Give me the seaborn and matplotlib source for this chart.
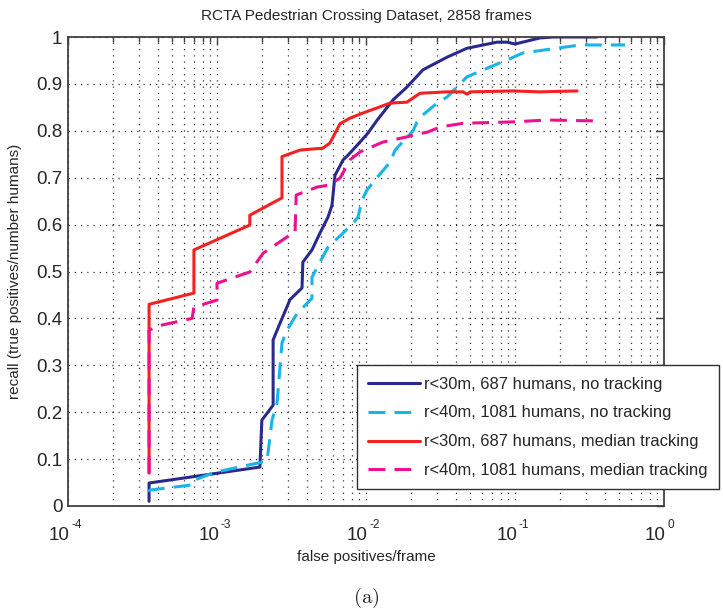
import numpy as np
import pandas as pd
import matplotlib
matplotlib.use("Agg")
import matplotlib.pyplot as plt
import seaborn as sns
from matplotlib.ticker import LogLocator, NullFormatter, FixedLocator

# ---------------- data ----------------
title = "RCTA Pedestrian Crossing Dataset, 2858 frames"
xlabel = "false positives/frame"
ylabel = "recall (true positives/number humans)"
caption = "(a)"

series_labels = [
    "r<30m, 687 humans, no tracking",
    "r<40m, 1081 humans, no tracking",
    "r<30m, 687 humans, median tracking",
    "r<40m, 1081 humans, median tracking",
]

navy_fp = [3.5e-4, 3.5e-4, 1.94e-3, 2.0e-3, 2.38e-3, 2.38e-3, 2.65e-3, 3.09e-3, 3.72e-3, 3.77e-3,
           4.34e-3, 4.91e-3, 5.56e-3, 5.91e-3, 6.19e-3, 7.02e-3, 7.57e-3, 9.12e-3, 1.03e-2, 1.19e-2,
           1.52e-2, 1.88e-2, 2.41e-2, 3.5e-2, 4.76e-2, 7.57e-2, 8.83e-2, 0.1, 0.147, 0.18, 0.355]
navy_recall = [0.01, 0.049, 0.083, 0.183, 0.215, 0.354, 0.39, 0.44, 0.465, 0.52,
               0.546, 0.582, 0.616, 0.641, 0.705, 0.738, 0.748, 0.776, 0.795, 0.823,
               0.866, 0.893, 0.93, 0.957, 0.976, 0.989, 0.989, 0.985, 0.998, 1.0, 1.0]

cyan_fp = [3.5e-4, 3.55e-4, 6.8e-4, 7.0e-4, 9.7e-4, 2.04e-3, 2.17e-3, 2.34e-3, 2.53e-3, 2.73e-3,
           2.95e-3, 3.44e-3, 4.34e-3, 4.34e-3, 4.91e-3, 5.56e-3, 7.02e-3, 8.18e-3, 8.84e-3, 9.4e-3,
           1.016e-2, 1.19e-2, 1.45e-2, 1.57e-2, 2.07e-2, 2.2e-2, 2.41e-2, 3.0e-2, 3.5e-2, 4.76e-2,
           6.79e-2, 8.83e-2, 0.113, 0.191, 0.273, 0.547]
cyan_recall = [0.03, 0.034, 0.045, 0.055, 0.072, 0.094, 0.098, 0.183, 0.22, 0.348,
               0.375, 0.41, 0.443, 0.488, 0.52, 0.552, 0.582, 0.603, 0.616, 0.652,
               0.674, 0.701, 0.733, 0.759, 0.80, 0.819, 0.834, 0.859, 0.872, 0.915,
               0.936, 0.951, 0.966, 0.976, 0.983, 0.983]

red_fp = [3.5e-4, 3.5e-4, 7.0e-4, 7.0e-4, 1.66e-3, 1.66e-3, 2.73e-3, 2.73e-3, 3.61e-3, 5.14e-3,
          5.73e-3, 6.69e-3, 7.81e-3, 9.55e-3, 1.24e-2, 1.45e-2, 1.88e-2, 2.3e-2, 3.5e-2, 4.48e-2,
          4.76e-2, 5.0e-2, 9.7e-2, 0.147, 0.261]
red_recall = [0.07, 0.43, 0.454, 0.546, 0.599, 0.62, 0.657, 0.745, 0.759, 0.763,
              0.774, 0.815, 0.827, 0.838, 0.851, 0.859, 0.861, 0.88, 0.883, 0.883,
              0.878, 0.883, 0.885, 0.883, 0.885]

magenta_fp = [3.5e-4, 3.5e-4, 4.3e-4, 6.8e-4, 7.0e-4, 1.0e-3, 1.0e-3, 1.66e-3, 2.04e-3, 3.09e-3,
              3.34e-3, 3.4e-3, 4.69e-3, 5.56e-3, 6.69e-3, 7.81e-3, 9.12e-3, 1.3e-2, 1.88e-2, 2.07e-2,
              2.57e-2, 3.14e-2, 4.48e-2, 9.7e-2, 0.164, 0.36]
magenta_recall = [0.07, 0.375, 0.386, 0.40, 0.424, 0.439, 0.475, 0.499, 0.539, 0.578,
                  0.582, 0.663, 0.68, 0.684, 0.699, 0.738, 0.755, 0.776, 0.787, 0.791,
                  0.797, 0.808, 0.816, 0.819, 0.823, 0.821]

y_ticks = [0, 0.1, 0.2, 0.3, 0.4, 0.5, 0.6, 0.7, 0.8, 0.9, 1]
y_ticklabels = ["0", "0.1", "0.2", "0.3", "0.4", "0.5", "0.6", "0.7", "0.8", "0.9", "1"]
x_ticks = [1e-4, 1e-3, 1e-2, 1e-1, 1e0]
x_tick_base = "10"
x_tick_exponents = ["-4", "-3", "-2", "-1", "0"]

# ---------------- styling ----------------
sns.set_theme(style="white")
plt.rcParams["font.family"] = ["Liberation Sans", "DejaVu Sans"]

textc = "#262626"
axc = "#404040"
PX = 0.72  # points per pixel at dpi 100

fig = plt.figure(figsize=(7.23, 6.15), dpi=100)
ax = fig.add_axes([68 / 723, 1 - 506 / 615, 596 / 723, 469 / 615])

styles = [
    (navy_fp, navy_recall, "#2a2a8c", "-"),
    (cyan_fp, cyan_recall, "#19b4ea", (0, (5.5, 3))),
    (red_fp, red_recall, "#f52020", "-"),
    (magenta_fp, magenta_recall, "#ee1090", (0, (5.5, 3))),
]
for (fp, rc, col, ls), lab in zip(styles, series_labels):
    df = pd.DataFrame({"fp": fp, "recall": rc})
    sns.lineplot(data=df, x="fp", y="recall", estimator=None, sort=False,
                 color=col, linestyle=ls, linewidth=2.2, label=lab, ax=ax)

ax.set_xscale("log")
ax.set_xlim(1e-4, 1)
ax.set_ylim(0, 1)
ax.xaxis.set_major_locator(FixedLocator(x_ticks))
ax.set_xticklabels([""] * len(x_ticks))
ax.xaxis.set_minor_locator(LogLocator(base=10, subs=np.arange(2, 10), numticks=20))
ax.xaxis.set_minor_formatter(NullFormatter())
ax.set_yticks(y_ticks)
ax.set_yticklabels(y_ticklabels)

# x tick labels in the old MATLAB style: "10" with a small raised exponent
for xt, ex in zip(x_ticks, x_tick_exponents):
    ax.annotate(x_tick_base, xy=(xt, 0), xycoords=("data", "axes fraction"),
                xytext=(2 * PX, -21 * PX), textcoords="offset points",
                ha="right", va="top", fontsize=13.5, color=textc, annotation_clip=False)
    ax.annotate(ex, xy=(xt, 0), xycoords=("data", "axes fraction"),
                xytext=(3.5 * PX, -12.5 * PX), textcoords="offset points",
                ha="left", va="top", fontsize=8.5, color=textc, annotation_clip=False)

ax.grid(True, which="major", axis="both", linestyle=(0, (1, 4)), color="#303030", linewidth=0.9)
ax.grid(True, which="minor", axis="x", linestyle=(0, (1, 4)), color="#303030", linewidth=0.9)

ax.tick_params(which="both", direction="in", top=True, right=True, colors=axc,
               labelcolor=textc, labelsize=13.5, width=1.0)
ax.tick_params(which="major", length=6)
ax.tick_params(axis="y", pad=4)
ax.tick_params(which="minor", length=3.5)
for s in ax.spines.values():
    s.set_color(axc)
    s.set_linewidth(1.3)

ax.set_title(title, fontsize=11, color=textc, pad=12)
ax.set_xlabel(xlabel, fontsize=11, color=textc)
ax.xaxis.set_label_coords(0.5, -0.093)
ax.set_ylabel(ylabel, fontsize=11, color=textc, labelpad=10)

leg = ax.legend(loc="upper left", bbox_to_anchor=(0.485, 0.30), fontsize=11.9,
                frameon=True, fancybox=False, framealpha=1, edgecolor="#303030",
                handlelength=3.1, labelspacing=0.84, borderpad=0.68, handletextpad=0.3,
                borderaxespad=0)
leg.get_frame().set_linewidth(1.0)
for t in leg.get_texts():
    t.set_color(textc)

fig.text(366 / 723, 1 - 598 / 615, r"$\mathrm{(a)}$", math_fontfamily="cm",
         ha="center", va="center", fontsize=15, color=textc)

fig.savefig("out.png", dpi=100)
